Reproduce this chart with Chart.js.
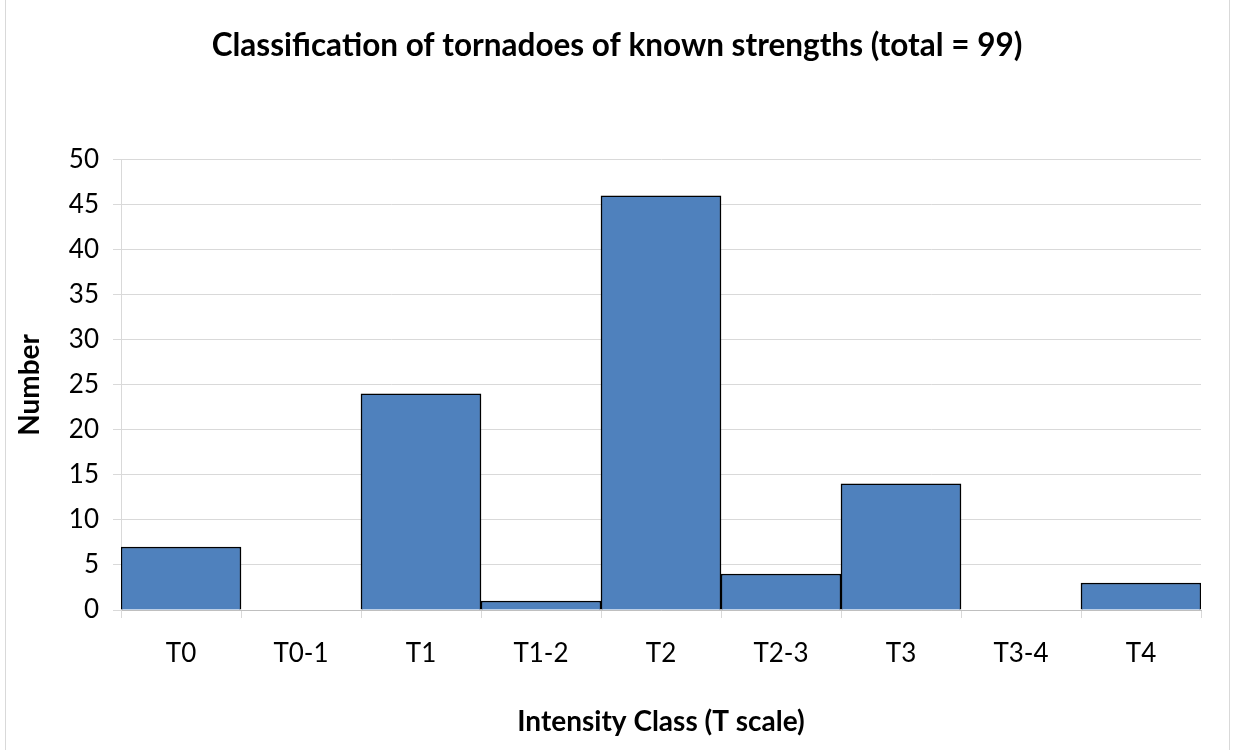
<!DOCTYPE html>
<html>
<head>
<meta charset="utf-8">
<script src="https://cdn.jsdelivr.net/npm/chart.js@4"></script>
<style>
  body { margin: 0; background: #fff; }
  #wrap { width: 1234px; height: 750px; }
</style>
</head>
<body>
<div id="wrap"><canvas id="barChartCanvas" width="1234" height="750"></canvas></div>
<script>
// chart values
var classes = ['T0', 'T0-1', 'T1', 'T1-2', 'T2', 'T2-3', 'T3', 'T3-4', 'T4'];
var counts = [7, 0, 24, 1, 46, 4, 14, 0, 3];
var yTicks = [0, 5, 10, 15, 20, 25, 30, 35, 40, 45, 50];

var fontFamily = 'Lato, "Open Sans", sans-serif';

// light grey frame round the whole chart
var framePlugin = {
  id: 'frame',
  afterDraw: function(chart) {
    var ctx = chart.ctx;
    ctx.save();
    ctx.strokeStyle = '#d9d9d9';
    ctx.lineWidth = 1;
    ctx.strokeRect(5.5, -1, 1224, 760);
    ctx.restore();
  }
};

var ctx = document.getElementById('barChartCanvas').getContext('2d');
var barChart = new Chart(ctx, {
  type: 'bar',
  data: {
    labels: classes,
    datasets: [{
      label: 'Number',
      data: counts,
      backgroundColor: '#4F81BD',
      borderColor: '#000000',
      borderWidth: 1.5,
      barPercentage: 1,
      categoryPercentage: 1
    }]
  },
  options: {
    responsive: false,
    animation: false,
    // equal side padding keeps the title centred on the frame
    layout: { padding: { left: 33, right: 33, top: 0, bottom: 0 } },
    plugins: {
      legend: { display: false },
      tooltip: { enabled: false },
      title: {
        display: true,
        text: 'Classification of tornadoes of known strengths (total = 99)',
        color: '#000',
        font: { family: fontFamily, size: 31.5, weight: 'bold' },
        padding: { top: 27, bottom: 95 }
      }
    },
    scales: {
      x: {
        afterFit: function(scale) { scale.height = 140; },
        grid: { drawOnChartArea: false, drawTicks: true, tickLength: 8, color: '#d9d9d9' },
        border: { color: '#bfbfbf' },
        ticks: { color: '#000', padding: 20, font: { family: fontFamily, size: 26 } },
        title: {
          display: true,
          text: 'Intensity Class (T scale)',
          color: '#000',
          font: { family: fontFamily, size: 28, weight: 'bold' },
          padding: { top: 0, bottom: 11 }
        }
      },
      y: {
        min: 0,
        max: 50,
        afterFit: function(scale) { scale.width = 88; },
        afterBuildTicks: function(scale) {
          scale.ticks = yTicks.map(function(v) { return { value: v }; });
        },
        grid: { color: '#d9d9d9', tickLength: 8 },
        border: { color: '#d9d9d9' },
        ticks: { color: '#000', padding: 14, font: { family: fontFamily, size: 26 } },
        title: {
          display: true,
          text: 'Number',
          color: '#000',
          font: { family: fontFamily, size: 28, weight: 'bold' },
          padding: { top: -20, bottom: 0 }
        }
      }
    }
  },
  plugins: [framePlugin]
});
</script>
</body>
</html>
